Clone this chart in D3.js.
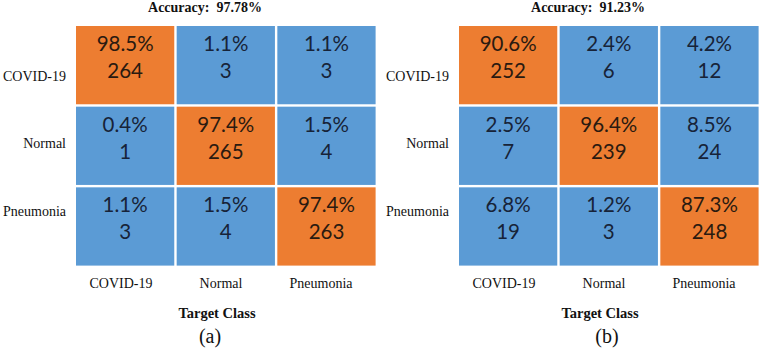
<!DOCTYPE html>
<html>
<head>
<meta charset="utf-8">
<script src="https://cdn.jsdelivr.net/npm/d3@7"></script>
<style>
  html, body { margin: 0; padding: 0; background: #fff; }
  svg { display: block; }
</style>
</head>
<body>
<svg id="chart" width="762" height="348"></svg>
<script>
// ---- data ----
const categories = ["COVID-19", "Normal", "Pneumonia"];
const countsA = [[264, 3, 3], [1, 265, 4], [3, 4, 263]];
const percentA = [[98.5, 1.1, 1.1], [0.4, 97.4, 1.5], [1.1, 1.5, 97.4]];
const countsB = [[252, 6, 12], [7, 239, 24], [19, 3, 248]];
const percentB = [[90.6, 2.4, 4.2], [2.5, 96.4, 8.5], [6.8, 1.2, 87.3]];
const accuracies = ["97.78%", "91.23%"];
const panelLabels = ["(a)", "(b)"];
const axisTitle = "Target Class";

// ---- layout ----
const panels = [
  { counts: countsA, pct: percentA, acc: accuracies[0], tag: panelLabels[0], x0: 76, x1: 378, tagX: 210 },
  { counts: countsB, pct: percentB, acc: accuracies[1], tag: panelLabels[1], x0: 459, x1: 761, tagX: 607 }
];
const orange = "#ED7D31", blue = "#5B9BD5";
const cellFont = "Lato, 'Open Sans', sans-serif";
const serif = "'Liberation Serif', 'Times New Roman', serif";
const svg = d3.select("#chart");
svg.append("rect").attr("width", 762).attr("height", 348).attr("fill", "#fff");

const y = d3.scaleBand().domain(categories).range([26, 268]);
const labelY = d3.scalePoint().domain(categories).range([76, 211]);
const gap = 2.4;

panels.forEach(p => {
  const g = svg.append("g");
  const x = d3.scaleBand().domain(categories).range([p.x0, p.x1]);
  const colLabelX = d3.scalePoint().domain(categories).range([p.x0 + 45, p.x0 + 245]);
  const cells = [];
  categories.forEach((r, i) => categories.forEach((c, j) => {
    cells.push({ r, c, diag: i === j, n: p.counts[i][j], pct: p.pct[i][j] });
  }));

  g.selectAll("rect.cell").data(cells).join("rect")
    .attr("class", "cell")
    .attr("x", d => x(d.c))
    .attr("y", d => y(d.r))
    .attr("width", x.bandwidth() - gap)
    .attr("height", y.bandwidth() - gap)
    .attr("fill", d => d.diag ? orange : blue);

  const cx = d => x(d.c) + (x.bandwidth() - gap) / 2;
  g.selectAll("text.pct").data(cells).join("text")
    .attr("x", cx)
    .attr("y", d => y(d.r) + 17)
    .attr("text-anchor", "middle")
    .attr("dominant-baseline", "central")
    .attr("font-family", cellFont)
    .attr("font-size", 20.5)
    .attr("fill", d => d.diag ? "#2a1a10" : "#172338")
    .text(d => d3.format(".1f")(d.pct) + "%");
  g.selectAll("text.cnt").data(cells).join("text")
    .attr("x", cx)
    .attr("y", d => y(d.r) + 44)
    .attr("text-anchor", "middle")
    .attr("dominant-baseline", "central")
    .attr("font-family", cellFont)
    .attr("font-size", 20.5)
    .attr("fill", d => d.diag ? "#2a1a10" : "#172338")
    .text(d => d.n);

  // row labels
  g.selectAll("text.row").data(categories).join("text")
    .attr("x", p.x0 - 10)
    .attr("y", d => labelY(d))
    .attr("text-anchor", "end")
    .attr("dominant-baseline", "central")
    .attr("font-family", serif)
    .attr("font-size", 14)
    .attr("fill", "#111")
    .text(d => d);

  // column labels
  g.selectAll("text.col").data(categories).join("text")
    .attr("x", d => colLabelX(d))
    .attr("y", 283)
    .attr("text-anchor", "middle")
    .attr("dominant-baseline", "central")
    .attr("font-family", serif)
    .attr("font-size", 14)
    .attr("fill", "#111")
    .text(d => d);

  // title
  g.append("text")
    .attr("x", p.x0 + 129).attr("y", 7)
    .attr("text-anchor", "middle").attr("dominant-baseline", "central")
    .attr("font-family", serif).attr("font-weight", "bold").attr("font-size", 14)
    .attr("fill", "#111")
    .style("white-space", "pre")
    .text("Accuracy:  " + p.acc);

  g.append("text")
    .attr("x", p.x0 + 141).attr("y", 313)
    .attr("text-anchor", "middle").attr("dominant-baseline", "central")
    .attr("font-family", serif).attr("font-weight", "bold").attr("font-size", 14.5)
    .attr("fill", "#111")
    .text(axisTitle);

  g.append("text")
    .attr("x", p.tagX).attr("y", 336)
    .attr("text-anchor", "middle").attr("dominant-baseline", "central")
    .attr("font-family", serif).attr("font-size", 20)
    .attr("fill", "#111")
    .text(p.tag);
});
</script>
</body>
</html>
